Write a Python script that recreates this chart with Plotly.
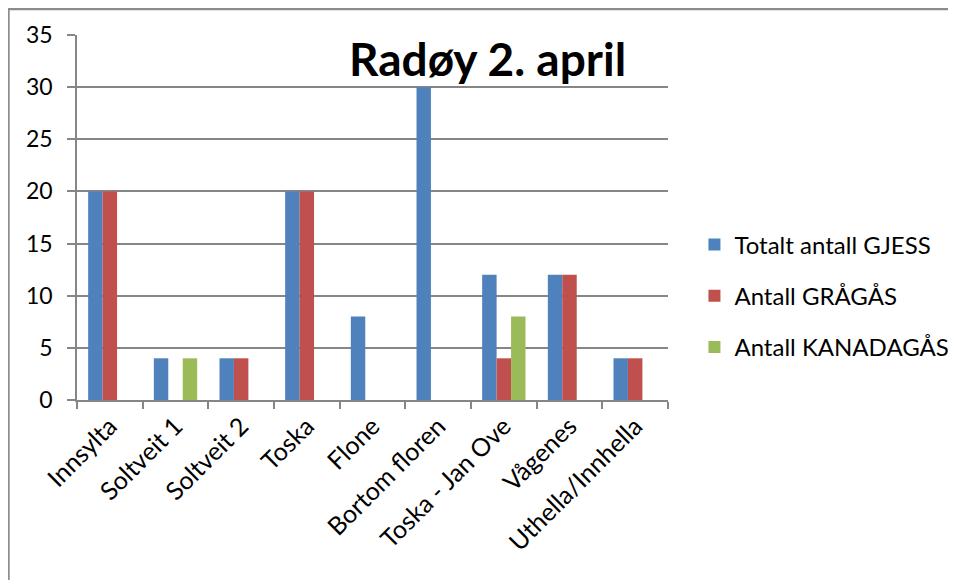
import plotly.graph_objects as go

categories = ["Innsylta", "Soltveit 1", "Soltveit 2", "Toska", "Flone",
              "Bortom floren", "Toska - Jan Ove", "Vågenes", "Uthella/Innhella"]
totalt = [20, 4, 4, 20, 8, 30, 12, 12, 4]
gragas = [20, None, 4, 20, None, None, 4, 12, 4]
kanadagas = [None, 4, None, None, None, None, 8, None, None]
series_names = ["Totalt antall GJESS", "Antall GRÅGÅS", "Antall KANADAGÅS"]
colors = ["#4F81BD", "#C0504D", "#9BBB59"]

FONT = "Lato"
fig = go.Figure()
for i, (name, vals, col) in enumerate(zip(series_names, [totalt, gragas, kanadagas], colors)):
    fig.add_trace(go.Bar(x=categories, y=vals, name=name, marker_color=col,
                         marker_line_width=0, legendgroup=f"g{i}"))

fig.update_layout(
    width=948, height=572,
    paper_bgcolor="white", plot_bgcolor="white",
    margin=dict(l=69, r=288, t=27, b=180, pad=0, autoexpand=False),
    barmode="group", bargap=0.34, bargroupgap=0,
    font=dict(family=FONT, color="#000000", size=19),
    showlegend=True,
    legend=dict(xref="container", yref="container", x=0.7241, y=0.4965,
                yanchor="middle", xanchor="left",
                font=dict(size=24, family=FONT), tracegroupgap=17,
                itemwidth=30, bgcolor="rgba(0,0,0,0)"),
    xaxis=dict(tickangle=-45, ticks="outside", tickson="boundaries", ticklen=7,
               tickcolor="#868686", tickwidth=1.5, showline=True, linecolor="#868686",
               linewidth=1.5, tickfont=dict(size=25, family=FONT),
               showgrid=False, automargin=False),
    yaxis=dict(range=[0, 35], dtick=5, ticks="outside", ticklen=8,
               tickcolor="#868686", tickwidth=1.5, showline=True, linecolor="#868686",
               linewidth=1.5, gridcolor="#868686", gridwidth=1.5,
               tickfont=dict(size=23, family=FONT), zeroline=False,
               ticklabelstandoff=10, automargin=False),
)

fig.add_annotation(text="<b>Radøy 2. april</b>", xref="paper", yref="paper",
                   x=0.6954, y=0.9355, xanchor="center", yanchor="middle",
                   showarrow=False,
                   font=dict(size=46, family=FONT, color="black"))

# outer frame lines (top and left) of the chart area
fig.add_shape(type="line", xref="paper", yref="paper", x0=-0.1168, x1=1.5,
              y0=1.0712, y1=1.0712, line=dict(color="#8c8c8c", width=2.5))
fig.add_shape(type="line", xref="paper", yref="paper", x0=-0.1160, x1=-0.1160,
              y0=1.0712, y1=-0.6, line=dict(color="#8c8c8c", width=2.5))

fig.write_html("out.html")
